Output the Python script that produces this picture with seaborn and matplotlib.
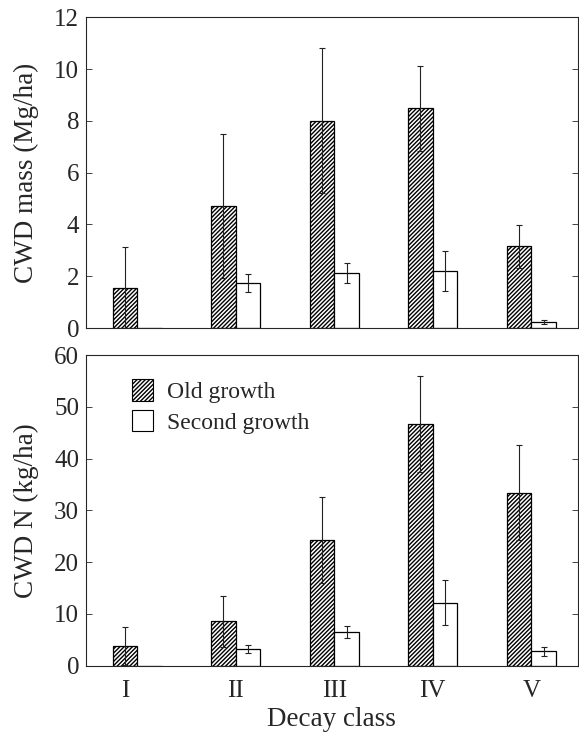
import numpy as np
import pandas as pd
import seaborn as sns
import matplotlib.pyplot as plt
from matplotlib.patches import Patch

classes = ['I', 'II', 'III', 'IV', 'V']
groups = ['Old growth', 'Second growth']

mass_old = [1.55, 4.71, 8.01, 8.49, 3.15]
mass_old_se = [1.57, 2.78, 2.79, 1.64, 0.82]
mass_sec = [0.0, 1.74, 2.12, 2.20, 0.23]
mass_sec_se = [np.nan, 0.33, 0.39, 0.78, 0.09]

n_old = [3.73, 8.56, 24.2, 46.7, 33.4]
n_old_se = [3.67, 5.0, 8.3, 9.3, 9.2]
n_sec = [0.0, 3.15, 6.44, 12.2, 2.77]
n_sec_se = [np.nan, 0.78, 1.16, 4.3, 0.83]

sns.set_style('ticks')
plt.rcParams['font.family'] = ['Liberation Serif', 'DejaVu Serif']
plt.rcParams['hatch.linewidth'] = 1.0

def long_df(old, sec):
    return pd.DataFrame({
        'cls': classes * 2,
        'grp': [groups[0]] * 5 + [groups[1]] * 5,
        'val': old + sec,
    })

fig = plt.figure(figsize=(5.79, 7.34), dpi=100)
ax1 = fig.add_axes([0.1485, 0.5531, 0.849, 0.4233])
ax2 = fig.add_axes([0.1485, 0.0930, 0.849, 0.4233])

panels = [
    (ax1, mass_old, mass_sec, mass_old_se, mass_sec_se, 'CWD mass (Mg/ha)', 12, 2),
    (ax2, n_old, n_sec, n_old_se, n_sec_se, 'CWD N (kg/ha)', 60, 10),
]

for ax, old, sec, old_se, sec_se, ylab, ymax, step in panels:
    df = long_df(old, sec)
    sns.barplot(data=df, x='cls', y='val', hue='grp', order=classes,
                hue_order=groups, palette=['white', 'white'], edgecolor='black',
                linewidth=0.9, width=0.5, errorbar=None, ax=ax, legend=False)
    for bar in ax.containers[0]:
        bar.set_hatch('////////')
    for cont, se in zip(ax.containers, [old_se, sec_se]):
        for bar, e in zip(cont, se):
            if np.isnan(e):
                continue
            cx = bar.get_x() + bar.get_width() / 2
            ax.errorbar(cx, bar.get_height(), yerr=e, color='#222222',
                        elinewidth=0.8, capsize=2.5, capthick=0.8, zorder=3)
    ax.set_xlim(-0.52, 4.47)
    ax.set_ylim(0, ymax)
    ax.set_yticks(np.arange(0, ymax + 1, step))
    ax.set_ylabel(ylab, fontsize=19.5, labelpad=11)
    ax.set_xlabel('')
    ax.tick_params(axis='y', direction='in', right=True, labelsize=18, length=4, width=0.6, pad=5)
    ax.tick_params(axis='x', length=0, labelsize=18, pad=10)
    for s in ax.spines.values():
        s.set_visible(True)
        s.set_linewidth(0.8)

ax1.set_xticks([-0.125, 1, 2, 3, 4])
ax1.set_xticklabels([])
ax2.set_xticks([-0.125, 1, 2, 3, 4])
ax2.set_xticklabels(classes)
ax2.set_xlabel('Decay class', fontsize=19.5, labelpad=4)

handles = [Patch(facecolor='white', edgecolor='black', hatch='////////', linewidth=0.8),
           Patch(facecolor='white', edgecolor='black', linewidth=0.8)]
ax2.legend(handles, groups, loc='upper left', bbox_to_anchor=(0.05, 0.99),
           frameon=False, fontsize=17, handlelength=0.9, handleheight=1.0,
           handletextpad=0.6, labelspacing=0.3)

fig.savefig('out.png', dpi=100)
